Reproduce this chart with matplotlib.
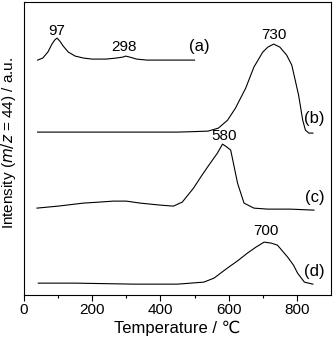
import matplotlib.pyplot as plt

# intensity in arbitrary units (offset traces)
temp_a = [40, 55, 70, 82, 90, 97, 105, 115, 130, 150, 175, 200, 240, 270, 290, 298, 310, 330, 360, 400, 450, 500]
int_a = [235, 237, 243, 251, 255, 257, 254, 249, 243, 239, 237, 236, 236, 237, 238, 239, 238, 236, 235, 235, 235, 235]

temp_b = [40, 150, 300, 450, 500, 540, 570, 597, 620, 650, 674, 700, 715, 732, 750, 770, 785, 795, 805, 817, 825, 835, 847]
int_b = [163, 163, 163, 163, 163.5, 164, 167, 175, 187, 207, 228, 243, 248, 251, 248, 240, 230, 215, 200, 175, 165, 162, 162]

temp_c = [38, 100, 174, 220, 262, 300, 341, 400, 438, 464, 497, 520, 538, 567, 582, 595, 606, 626, 645, 674, 714, 780, 850]
int_c = [87, 89, 92, 93, 94, 94, 92, 90, 89, 93, 107, 119, 128, 142, 151, 148, 145, 112, 92, 87, 86, 86, 85]

temp_d = [42, 150, 322, 450, 527, 557, 596, 625, 655, 680, 704, 725, 743, 773, 790, 802, 822, 847]
int_d = [12, 12, 11, 11, 13, 17, 27, 34, 42, 48, 53, 52, 50, 38, 30, 22, 13, 11]

peak_labels = ["97", "298", "730", "580", "700"]
peak_pos = [(97, 264), (294, 248), (733, 260), (586, 159), (709, 64)]
curve_labels = ["(a)", "(b)", "(c)", "(d)"]
curve_pos = [(514, 249), (852, 177), (852, 98), (852, 24)]

plt.rcParams['font.family'] = ['Liberation Sans', 'DejaVu Sans']

fig = plt.figure(figsize=(3.33, 3.46), dpi=100)
ax = fig.add_axes([0.072, 0.147, 0.922, 0.847])

for t, y in [(temp_a, int_a), (temp_b, int_b), (temp_c, int_c), (temp_d, int_d)]:
    ax.plot(t, y, color='black', lw=0.8)

for txt, (x, y) in zip(peak_labels, peak_pos):
    ax.text(x, y, txt, ha='center', va='center', fontsize=11)
for txt, (x, y) in zip(curve_labels, curve_pos):
    ax.text(x, y, txt, ha='center', va='center', fontsize=12)

ax.set_xlim(0, 900)
ax.set_ylim(0, 293)
ax.set_xticks([0, 200, 400, 600, 800])
ax.set_xticks([100, 300, 500, 700], minor=True)
ax.set_yticks([])
ax.tick_params(axis='x', labelsize=11, length=4, width=0.8, pad=2)
ax.tick_params(axis='x', which='minor', length=2.5, width=0.8)
for s in ax.spines.values():
    s.set_linewidth(0.8)

ax.set_xlabel('Temperature / \u2103', fontsize=12, labelpad=2)
ax.set_ylabel('Intensity ($\\it{m/z}$ = 44) / a.u.', fontsize=11)
ax.yaxis.set_label_coords(-0.02, 0.52)

fig.savefig('out.png', dpi=100)
